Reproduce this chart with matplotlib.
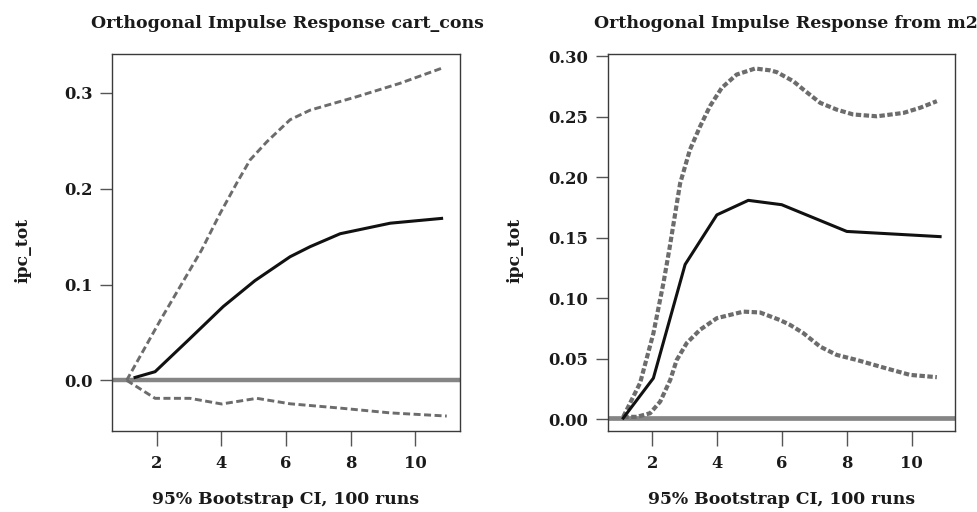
import matplotlib
matplotlib.use("Agg")
import matplotlib.pyplot as plt

# ---------------- data ----------------
# Left panel: response of ipc_tot to cart_cons
irf1_x = [1.33, 1.95, 2.98, 4.06, 5.04, 6.13, 6.75, 7.68, 9.23, 10.82]
irf1_y = [0.003, 0.009, 0.042, 0.077, 0.104, 0.129, 0.1395, 0.153, 0.164, 0.169]
upper1_x = [1.07, 2.1, 3.39, 3.96, 4.48, 4.89, 5.41, 6.13, 6.75, 8.19, 9.53, 10.82]
upper1_y = [0.0, 0.062, 0.136, 0.174, 0.206, 0.230, 0.249, 0.272, 0.282, 0.296, 0.310, 0.3257]
lower1_x = [1.07, 1.95, 3.03, 4.01, 5.1, 6.13, 7.68, 9.23, 10.98]
lower1_y = [0.0, -0.0188, -0.0188, -0.0247, -0.0188, -0.0245, -0.029, -0.034, -0.0373]

# Right panel: response of ipc_tot to m2
irf2_x = [1.1, 2.03, 3.01, 3.99, 4.96, 5.99, 8.0, 10.88]
irf2_y = [0.001, 0.034, 0.128, 0.169, 0.181, 0.1774, 0.1553, 0.151]
upper2_x = [1.1, 1.62, 2.03, 2.34, 2.52, 2.855, 3.16, 3.47, 3.78, 4.14, 4.6, 5.17,
            5.63, 5.84, 6.35, 6.66, 7.18, 7.69, 8.2, 8.93, 9.75, 10.26, 10.78]
upper2_y = [0.002, 0.030, 0.071, 0.1126, 0.140, 0.195, 0.223, 0.242, 0.259, 0.274, 0.285, 0.290,
            0.2885, 0.2870, 0.2795, 0.2726, 0.2616, 0.256, 0.252, 0.2505, 0.2533, 0.2575, 0.263]
lower2_x = [1.1, 1.52, 1.93, 2.24, 2.55, 2.75, 3.06, 3.47, 3.99, 4.81, 5.32, 5.94,
            6.25, 6.66, 7.18, 7.69, 8.31, 9.23, 9.95, 10.78]
lower2_y = [0.002, 0.002, 0.005, 0.0146, 0.0325, 0.049, 0.063, 0.074, 0.0836, 0.089, 0.0883, 0.082,
            0.078, 0.0712, 0.060, 0.0532, 0.049, 0.042, 0.0367, 0.0348]

x_ticks = [2, 4, 6, 8, 10]
y_ticks1 = [0.0, 0.1, 0.2, 0.3]
y_labels1 = ["0.0", "0.1", "0.2", "0.3"]
y_ticks2 = [0.0, 0.05, 0.10, 0.15, 0.20, 0.25, 0.30]
y_labels2 = ["0.00", "0.05", "0.10", "0.15", "0.20", "0.25", "0.30"]

titles = ["Orthogonal Impulse Response cart_cons", "Orthogonal Impulse Response from m2"]
xlabel = "95% Bootstrap CI, 100 runs"
ylabel = "ipc_tot"

# ---------------- figure ----------------
W, H = 978, 512
fig = plt.figure(figsize=(W / 100, H / 100), dpi=100)
plt.rcParams['font.family'] = ['DejaVu Serif']
plt.rcParams['font.weight'] = 'bold'

def px_axes(l, r, t, b):
    return fig.add_axes([l / W, 1 - b / H, (r - l) / W, (b - t) / H])

ax1 = px_axes(112, 460, 54, 431)
ax2 = px_axes(607.7, 955, 54, 431)

frame_c = "#3a3a3a"
gray = "#6c6c6c"
zero_c = "#858585"
black = "#111111"
text_c = "#1a1a1a"
tick_fs = 11.8

def style(ax, yt, yl):
    for s in ax.spines.values():
        s.set_color(frame_c)
        s.set_linewidth(1.0)
    ax.set_xticks(x_ticks)
    ax.set_xticklabels([str(t) for t in x_ticks], fontsize=tick_fs, fontweight='bold', color=text_c)
    ax.set_yticks(yt)
    ax.set_yticklabels(yl, fontsize=tick_fs, fontweight='bold', color=text_c)
    ax.tick_params(axis='x', length=11, width=1.0, color="#555555", pad=6)
    ax.tick_params(axis='y', length=9, width=1.0, color="#555555", pad=5)

# left
ax1.axhline(0, color=zero_c, lw=3.2, zorder=1)
ax1.plot(upper1_x, upper1_y, color=gray, lw=2.1, dashes=(2.4, 1.2), zorder=2)
ax1.plot(lower1_x, lower1_y, color=gray, lw=2.1, dashes=(2.4, 1.2), zorder=2)
ax1.plot(irf1_x, irf1_y, color=black, lw=2.2, zorder=3)
ax1.set_xlim(0.616, 11.39)
ax1.set_ylim(-0.0529, 0.3406)
style(ax1, y_ticks1, y_labels1)

# right
ax2.axhline(0.001, color=zero_c, lw=3.4, zorder=1)
ax2.plot(upper2_x, upper2_y, color=gray, lw=3.0, dashes=(1.3, 0.6), zorder=2)
ax2.plot(lower2_x, lower2_y, color=gray, lw=3.0, dashes=(1.3, 0.6), zorder=2)
ax2.plot(irf2_x, irf2_y, color=black, lw=2.2, zorder=3)
ax2.set_xlim(0.62, 11.34)
ax2.set_ylim(-0.0097, 0.302)
style(ax2, y_ticks2, y_labels2)

def ftext(x, y, s, **kw):
    fig.text(x / W, 1 - y / H, s, ha='center', va='center', fontweight='bold', **kw)

ftext(287, 23, titles[0], fontsize=12.5, color=text_c)
ftext(786, 23, titles[1], fontsize=12.5, color=text_c)
ftext(286, 499, xlabel, fontsize=12.4, color=text_c)
ftext(782, 499, xlabel, fontsize=12.4, color=text_c)
ftext(23, 250, ylabel, fontsize=12.4, rotation=90, color=text_c)
ftext(515, 250, ylabel, fontsize=12.4, rotation=90, color=text_c)

fig.savefig("out.png", dpi=100)
